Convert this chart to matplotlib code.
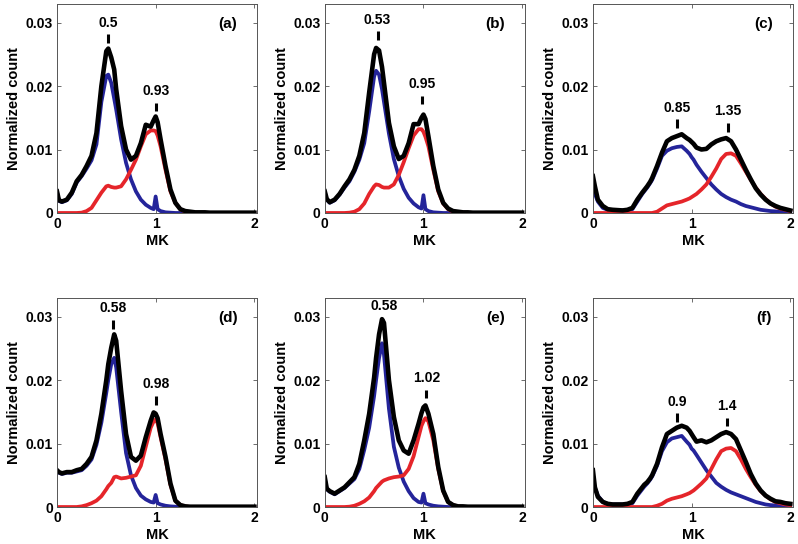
import numpy as np
import matplotlib
matplotlib.use("Agg")
import matplotlib.pyplot as plt

plt.rcParams["font.family"] = ["Liberation Sans", "DejaVu Sans"]
plt.rcParams["font.weight"] = "bold"

# MK grid shared by all curves
MK = [0, 0.02, 0.05, 0.1, 0.15, 0.2, 0.25, 0.3, 0.35, 0.4,
      0.45, 0.5, 0.52, 0.55, 0.58, 0.6, 0.65, 0.7, 0.75, 0.8,
      0.85, 0.9, 0.95, 0.98, 1.0, 1.02, 1.05, 1.1, 1.15, 1.2,
      1.25, 1.3, 1.35, 1.4, 1.45, 1.5, 1.55, 1.6, 1.65, 1.7,
      1.75, 1.8, 1.85, 1.9, 1.95, 2.0]

# normalized counts, in units of 1e-3
black_a = [3.4, 2.0, 1.8, 2.1, 3.2, 5.0, 6.0, 7.4, 9.0, 12.6,
           20.0, 25.5, 25.9, 24.5, 22.6, 19.5, 13.7, 10.0, 8.4, 9.0,
           11.0, 13.9, 13.6, 14.6, 15.2, 14.3, 11.6, 7.4, 3.7, 1.6,
           0.6, 0.3, 0.2, 0.1, 0.1, 0.1, 0.05, 0.05, 0.05, 0.05,
           0.05, 0.05, 0.05, 0.05, 0.05, 0.05]
blue_a = [3.3, 1.9, 1.7, 2.0, 3.0, 4.8, 5.8, 7.0, 8.3, 10.8,
          17.5, 21.6, 21.8, 20.5, 18.0, 16.3, 11.6, 7.9, 5.3, 3.4,
          2.1, 1.3, 0.8, 0.6, 2.6, 0.6, 0.3, 0.1, 0.05, 0,
          0, 0, 0, 0, 0, 0, 0, 0, 0, 0,
          0, 0, 0, 0, 0, 0]
red_a = [0, 0, 0, 0, 0, 0, 0.05, 0.3, 0.8, 2.0,
         3.2, 4.2, 4.3, 4.1, 4.0, 4.0, 4.2, 5.3, 6.8, 8.4,
         10.5, 12.4, 13.0, 13.0, 12.9, 12.2, 10.5, 6.8, 3.4, 1.6,
         0.6, 0.2, 0.1, 0.05, 0, 0, 0, 0, 0, 0,
         0, 0, 0, 0, 0, 0]

black_b = [3.4, 2.2, 1.7, 2.1, 3.0, 4.2, 5.3, 6.8, 9.0, 12.6,
           19.0, 25.0, 26.0, 25.6, 23.0, 20.5, 14.2, 10.5, 8.5, 9.0,
           11.0, 14.0, 14.0, 15.0, 15.5, 14.8, 12.1, 7.4, 3.7, 1.6,
           0.7, 0.3, 0.2, 0.1, 0.1, 0.05, 0.05, 0.05, 0.05, 0.05,
           0.05, 0.05, 0.05, 0.05, 0.05, 0.05]
blue_b = [3.3, 2.1, 1.6, 2.0, 2.9, 4.0, 5.0, 6.5, 8.4, 11.0,
          16.0, 21.5, 22.4, 21.8, 19.5, 17.5, 12.5, 8.5, 5.8, 3.8,
          2.4, 1.5, 0.9, 0.7, 2.8, 0.6, 0.3, 0.1, 0.05, 0,
          0, 0, 0, 0, 0, 0, 0, 0, 0, 0,
          0, 0, 0, 0, 0, 0]
red_b = [0, 0, 0, 0, 0, 0, 0.05, 0.2, 0.6, 1.5,
         3.0, 4.2, 4.5, 4.4, 4.1, 4.0, 4.0, 4.5, 6.0, 8.0,
         10.2, 12.2, 13.2, 13.2, 12.8, 12.0, 10.5, 6.8, 3.4, 1.5,
         0.6, 0.2, 0.1, 0.05, 0, 0, 0, 0, 0, 0,
         0, 0, 0, 0, 0, 0]

black_c = [5.8, 4.2, 2.1, 1.1, 0.6, 0.5, 0.45, 0.4, 0.5, 0.8,
           2.1, 3.2, 3.6, 4.2, 4.9, 5.5, 7.4, 9.5, 11.3, 11.8,
           12.1, 12.4, 11.8, 11.5, 11.2, 10.9, 10.3, 10.0, 10.1, 10.8,
           11.3, 11.6, 11.8, 11.3, 10.0, 8.4, 6.8, 5.3, 3.9, 2.9,
           2.1, 1.5, 1.1, 0.8, 0.6, 0.4]
blue_c = [4.0, 3.0, 1.8, 0.8, 0.5, 0.4, 0.4, 0.4, 0.45, 0.6,
          1.8, 3.0, 3.4, 4.0, 4.7, 5.2, 7.0, 9.0, 9.8, 10.2,
          10.4, 10.5, 9.8, 9.3, 8.8, 8.4, 7.6, 6.5, 5.5, 4.5,
          3.7, 3.0, 2.5, 2.1, 1.8, 1.4, 1.1, 0.9, 0.7, 0.5,
          0.4, 0.3, 0.25, 0.2, 0.15, 0.1]
red_c = [0, 0, 0, 0, 0, 0, 0, 0, 0, 0,
         0, 0, 0, 0, 0, 0, 0.2, 0.7, 1.2, 1.4,
         1.6, 1.8, 2.1, 2.3, 2.5, 2.7, 3.0, 3.7, 4.5, 5.7,
         7.0, 8.5, 9.3, 9.4, 9.0, 7.8, 6.5, 5.2, 4.0, 3.0,
         2.2, 1.5, 1.0, 0.7, 0.5, 0.3]

black_d = [5.8, 5.5, 5.3, 5.5, 5.5, 5.8, 6.0, 6.8, 7.9, 10.5,
           14.7, 20.0, 22.5, 25.1, 27.2, 26.2, 18.3, 11.5, 7.9, 7.3,
           8.1, 11.0, 13.6, 14.9, 14.7, 14.0, 11.5, 7.9, 3.7, 1.0,
           0.3, 0.1, 0.05, 0.05, 0.05, 0.05, 0.05, 0.05, 0.05, 0.05,
           0.05, 0.05, 0.05, 0.05, 0.05, 0.05]
blue_d = [5.7, 5.4, 5.2, 5.4, 5.4, 5.6, 5.8, 6.5, 7.5, 9.8,
          13.3, 18.0, 20.0, 22.5, 23.5, 22.0, 15.0, 8.5, 5.0, 3.0,
          1.8, 1.2, 0.8, 0.7, 1.9, 0.6, 0.4, 0.2, 0.1, 0.05,
          0, 0, 0, 0, 0, 0, 0, 0, 0, 0,
          0, 0, 0, 0, 0, 0]
red_d = [0, 0, 0, 0, 0, 0, 0.1, 0.3, 0.6, 1.0,
         1.7, 2.8, 3.3, 3.8, 4.7, 4.8, 4.5, 4.6, 4.8, 5.0,
         6.5, 9.5, 12.5, 13.5, 13.8, 13.2, 11.0, 7.5, 3.5, 1.0,
         0.3, 0.1, 0, 0, 0, 0, 0, 0, 0, 0,
         0, 0, 0, 0, 0, 0]

black_e = [4.7, 2.9, 2.5, 2.1, 2.6, 3.1, 3.9, 4.7, 6.8, 10.5,
           14.7, 20.4, 23.5, 27.2, 29.6, 29.0, 20.0, 14.2, 10.5, 8.9,
           8.4, 10.5, 13.1, 14.8, 15.7, 16.0, 14.7, 11.5, 6.3, 2.6,
           0.8, 0.3, 0.1, 0.1, 0.05, 0.05, 0.05, 0.05, 0.05, 0.05,
           0.05, 0.05, 0.05, 0.05, 0.05, 0.05]
blue_e = [4.5, 2.8, 2.4, 2.0, 2.5, 3.0, 3.7, 4.4, 6.0, 9.0,
          12.5, 17.5, 20.0, 23.5, 25.8, 24.0, 15.5, 9.5, 6.2, 4.0,
          2.5, 1.4, 0.8, 0.7, 2.1, 0.6, 0.4, 0.2, 0.1, 0.05,
          0, 0, 0, 0, 0, 0, 0, 0, 0, 0,
          0, 0, 0, 0, 0, 0]
red_e = [0, 0, 0, 0, 0, 0, 0.05, 0.2, 0.5, 0.9,
         1.5, 2.5, 3.0, 3.5, 4.0, 4.2, 4.5, 4.7, 4.8, 5.0,
         6.0, 8.0, 11.0, 12.8, 13.5, 14.0, 13.5, 10.5, 6.0, 2.5,
         0.8, 0.3, 0.1, 0, 0, 0, 0, 0, 0, 0,
         0, 0, 0, 0, 0, 0]

black_f = [5.8, 3.1, 1.6, 0.8, 0.5, 0.4, 0.4, 0.4, 0.5, 0.8,
           2.1, 3.1, 3.5, 3.9, 4.5, 5.0, 6.8, 9.4, 11.5, 12.0,
           12.5, 12.8, 12.5, 12.0, 11.5, 11.0, 10.3, 10.5, 10.2, 10.5,
           11.0, 11.5, 11.8, 11.5, 10.7, 8.9, 7.1, 5.2, 3.7, 2.6,
           1.8, 1.3, 0.9, 0.8, 0.6, 0.5]
blue_f = [4.0, 3.0, 1.8, 0.8, 0.5, 0.4, 0.4, 0.4, 0.4, 0.6,
          1.8, 2.8, 3.2, 3.7, 4.3, 4.8, 6.5, 8.8, 10.2, 10.8,
          11.0, 11.2, 10.3, 9.8, 9.2, 8.9, 8.2, 7.0, 5.8, 4.8,
          3.8, 3.2, 2.7, 2.3, 2.0, 1.7, 1.4, 1.1, 0.8, 0.6,
          0.4, 0.3, 0.25, 0.2, 0.15, 0.1]
red_f = [0, 0, 0, 0, 0, 0, 0, 0, 0, 0,
         0, 0, 0, 0, 0, 0, 0.2, 0.5, 1.0, 1.3,
         1.5, 1.7, 2.0, 2.2, 2.4, 2.6, 3.0, 3.7, 4.5, 6.0,
         7.5, 8.8, 9.2, 9.3, 8.8, 7.5, 6.0, 4.7, 3.5, 2.5,
         1.8, 1.2, 0.8, 0.6, 0.4, 0.3]

panel_names = ["(a)", "(b)", "(c)", "(d)", "(e)", "(f)"]
blacks = [black_a, black_b, black_c, black_d, black_e, black_f]
blues = [blue_a, blue_b, blue_c, blue_d, blue_e, blue_f]
reds = [red_a, red_b, red_c, red_d, red_e, red_f]

# peak marks: label, x of mark, bottom of mark (1e-3 units)
peak_labels = [["0.5", "0.93"], ["0.53", "0.95"], ["0.85", "1.35"],
               ["0.58", "0.98"], ["0.58", "1.02"], ["0.9", "1.4"]]
peak_x = [[0.52, 1.0], [0.535, 0.99], [0.85, 1.37],
          [0.57, 1.0], [0.6, 1.03], [0.85, 1.36]]
peak_y = [[26.8, 16.0], [27.2, 17.1], [13.4, 12.8],
          [28.1, 16.1], [28.4, 17.1], [13.4, 12.7]]

BLUE = "#24249a"
RED = "#e5252a"

fig = plt.figure(figsize=(7.98, 5.44), dpi=100)
lefts = [0.0714, 0.407, 0.743]
bottoms = [0.6085, 0.068]
W, H = 0.251, 0.385

mk = np.array(MK)
for i in range(6):
    row, col = divmod(i, 3)
    ax = fig.add_axes([lefts[col], bottoms[row], W, H])
    ax.plot(mk, np.array(blues[i]) * 1e-3, color=BLUE, lw=2.7)
    ax.plot(mk, np.array(reds[i]) * 1e-3, color=RED, lw=2.7)
    ax.plot(mk, np.array(blacks[i]) * 1e-3, color="black", lw=3.3)

    for lab, px, py in zip(peak_labels[i], peak_x[i], peak_y[i]):
        y0 = py * 1e-3
        if i != 4 or lab != "0.58":
            ax.plot([px, px], [y0, y0 + 0.0014], color="black", lw=2.2,
                    solid_capstyle="butt")
        ax.text(px, y0 + 0.0021, lab, ha="center", va="bottom",
                fontsize=10, fontweight="bold")

    ax.text(1.73, 0.0298, panel_names[i], ha="center", va="center",
            fontsize=11, fontweight="bold")

    ax.set_xlim(0, 2.03)
    ax.set_ylim(0, 0.033)
    ax.set_xticks([0, 1, 2])
    ax.set_xticklabels(["0", "1", "2"])
    ax.set_yticks([0, 0.01, 0.02, 0.03])
    ax.set_yticklabels(["0", "0.01", "0.02", "0.03"])
    ax.tick_params(direction="in", top=True, right=True, length=3,
                   width=0.6, labelsize=10, color="#555555", pad=3)
    for lbl in ax.get_xticklabels() + ax.get_yticklabels():
        lbl.set_fontweight("bold")
    for sp in ax.spines.values():
        sp.set_color("#555555")
        sp.set_linewidth(0.7)
    ax.set_xlabel("MK", fontsize=10.5, fontweight="bold", labelpad=2)
    ax.set_ylabel("Normalized count", fontsize=10.5, fontweight="bold",
                  labelpad=3)

fig.savefig("out.png", dpi=100)
